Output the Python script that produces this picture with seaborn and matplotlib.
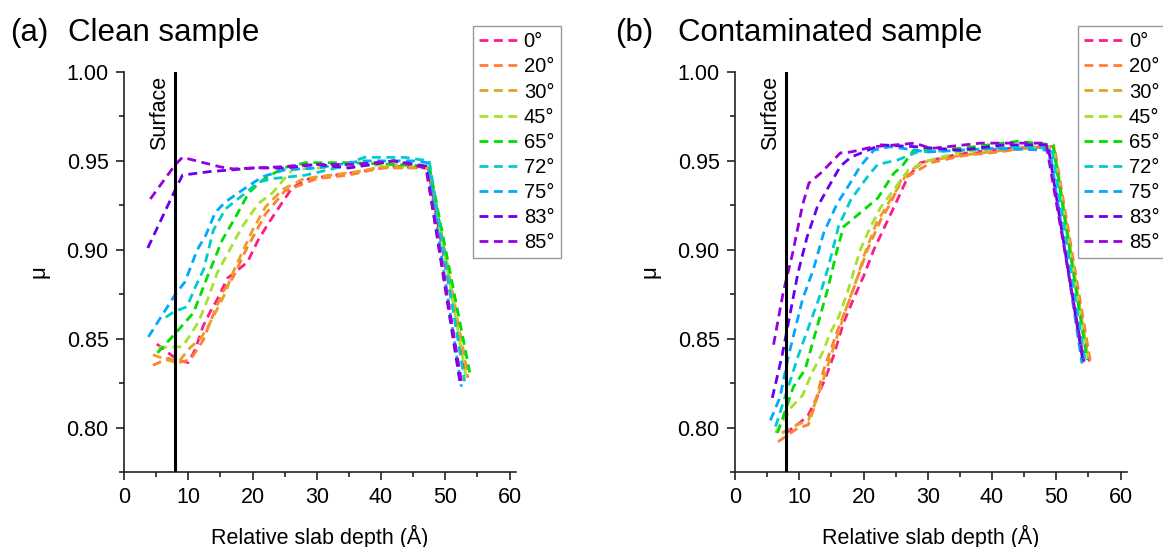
import numpy as np
import pandas as pd
import matplotlib
matplotlib.use("Agg")
import matplotlib.pyplot as plt
from matplotlib.lines import Line2D
import seaborn as sns

sns.set_theme(style="ticks")
plt.rcParams['font.family'] = ['Liberation Sans', 'DejaVu Sans']
plt.rcParams.update({"text.color": "black", "axes.labelcolor": "black",
                     "xtick.color": "black", "ytick.color": "black"})

angles = ["0°", "20°", "30°", "45°", "65°", "72°", "75°", "83°", "85°"]
colors = ["#FF1A8C", "#FF8030", "#E8A028", "#A8E030", "#00DD00", "#00CCCC", "#00AAFF", "#6600EE", "#9900DD"]

# ---- Panel (a): clean sample ----
a_x_0 = [5.1, 6.9, 8.4, 10.0, 11.1, 12.3, 13.4, 14.5, 16.1, 19.2, 20.9, 22.5, 24.7, 26.2, 28.8, 35, 42, 47.3, 53.0]
a_y_0 = [0.847, 0.842, 0.838, 0.8365, 0.844, 0.857, 0.865, 0.872, 0.884, 0.893, 0.9056, 0.915, 0.927, 0.935, 0.940, 0.943, 0.947, 0.946, 0.830]
a_x_20 = [4.5, 6.9, 8.4, 10.3, 12.3, 13.5, 15.3, 16.9, 19, 22, 25, 30, 35, 40, 47.5, 53.5]
a_y_20 = [0.835, 0.839, 0.8365, 0.838, 0.849, 0.860, 0.876, 0.884, 0.900, 0.920, 0.933, 0.940, 0.942, 0.946, 0.946, 0.828]
a_x_30 = [4.5, 6.7, 8.4, 10.3, 11.9, 13.1, 15.0, 15.8, 16.6, 17.3, 20.0, 22.0, 24.7, 28, 32.2, 36.4, 40.0, 47.5, 53.5]
a_y_30 = [0.841, 0.838, 0.8365, 0.845, 0.850, 0.857, 0.870, 0.876, 0.884, 0.890, 0.911, 0.924, 0.934, 0.940, 0.942, 0.944, 0.9466, 0.946, 0.830]
a_x_45 = [5.3, 9.1, 10.3, 11.6, 12.9, 14.5, 18.4, 20.9, 23.1, 25.2, 26.2, 30, 36, 42, 47.5, 53.2]
a_y_45 = [0.845, 0.8455, 0.852, 0.8595, 0.871, 0.887, 0.913, 0.926, 0.932, 0.941, 0.945, 0.946, 0.947, 0.948, 0.947, 0.829]
a_x_65 = [5.2, 8.0, 10.8, 13.0, 15.3, 17.3, 19.4, 21.5, 24.7, 28.3, 35, 42, 47.5, 53.8]
a_y_65 = [0.842, 0.853, 0.8645, 0.885, 0.9056, 0.918, 0.932, 0.939, 0.946, 0.949, 0.949, 0.948, 0.947, 0.831]
a_x_72 = [6.5, 7.7, 9.8, 11.1, 12.4, 13.9, 15.8, 18.9, 20.9, 23.1, 28.3, 33, 37.4, 43.6, 47.5, 53.0]
a_y_72 = [0.862, 0.865, 0.868, 0.879, 0.889, 0.911, 0.923, 0.932, 0.938, 0.940, 0.942, 0.946, 0.952, 0.952, 0.950, 0.826]
a_x_75 = [3.8, 5.9, 8.0, 9.5, 11.4, 12.7, 14.2, 15.8, 19.4, 21.5, 25, 30, 37, 45, 47.2, 52.5]
a_y_75 = [0.851, 0.863, 0.875, 0.882, 0.900, 0.908, 0.921, 0.927, 0.936, 0.941, 0.945, 0.946, 0.950, 0.950, 0.949, 0.823]
a_x_83 = [3.7, 8.0, 9.1, 13.4, 17, 20, 25, 30, 35, 42, 47, 52.3]
a_y_83 = [0.901, 0.934, 0.942, 0.944, 0.945, 0.946, 0.946, 0.948, 0.946, 0.950, 0.947, 0.825]
a_x_85 = [4.1, 8.0, 9.1, 15.0, 17.0, 20.2, 23.9, 30, 36, 42, 47, 52.5]
a_y_85 = [0.9286, 0.948, 0.952, 0.9466, 0.9455, 0.946, 0.9466, 0.948, 0.948, 0.950, 0.946, 0.826]

# ---- Panel (b): contaminated sample ----
b_x_0 = [7.8, 10.2, 11.4, 12.8, 14.1, 15.3, 16.9, 18.4, 20.0, 21.6, 25.0, 26.9, 28.9, 35, 42, 49.5, 55.2]
b_y_0 = [0.7966, 0.803, 0.807, 0.8173, 0.828, 0.840, 0.859, 0.872, 0.885, 0.900, 0.926, 0.941, 0.949, 0.954, 0.957, 0.958, 0.836]
b_x_20 = [6.7, 9.7, 11.4, 12.2, 13.8, 16.0, 18.0, 20.6, 22.7, 24.2, 25.8, 30.5, 35.6, 41, 45, 49.7, 55.3]
b_y_20 = [0.792, 0.7995, 0.8016, 0.810, 0.8325, 0.855, 0.8735, 0.900, 0.917, 0.926, 0.939, 0.949, 0.953, 0.955, 0.957, 0.958, 0.837]
b_x_30 = [7.3, 9.7, 11.4, 12.8, 14.1, 15.6, 17.2, 19.1, 20.0, 22.0, 24.5, 27, 30, 35, 42, 49.6, 55.0]
b_y_30 = [0.797, 0.8016, 0.804, 0.8167, 0.831, 0.848, 0.866, 0.885, 0.896, 0.915, 0.930, 0.944, 0.950, 0.953, 0.956, 0.958, 0.838]
b_x_45 = [6.3, 8.9, 10.5, 12.0, 13.6, 14.8, 16.1, 17.5, 19.5, 21.1, 22.7, 24.7, 27, 30, 35, 45, 49.5, 55]
b_y_45 = [0.797, 0.812, 0.818, 0.831, 0.842, 0.853, 0.862, 0.876, 0.900, 0.913, 0.924, 0.9337, 0.945, 0.950, 0.955, 0.958, 0.958, 0.837]
b_x_65 = [6.6, 7.5, 9.1, 10.9, 12.8, 14.4, 15.9, 16.9, 19.1, 22.2, 24.7, 26, 27.8, 35, 44, 49.5, 54.8]
b_y_65 = [0.797, 0.806, 0.823, 0.8325, 0.857, 0.8775, 0.900, 0.913, 0.9196, 0.929, 0.943, 0.947, 0.956, 0.957, 0.961, 0.959, 0.838]
b_x_72 = [6.3, 8.3, 9.8, 11.4, 13.0, 14.5, 16.1, 18.0, 20.6, 22.2, 25.3, 28.4, 35, 45, 49.3, 54.5]
b_y_72 = [0.8005, 0.823, 0.840, 0.856, 0.872, 0.890, 0.913, 0.928, 0.941, 0.948, 0.9505, 0.955, 0.956, 0.958, 0.957, 0.837]
b_x_75 = [5.5, 7.0, 8.3, 10.5, 12.2, 13.8, 15.9, 17.5, 19.5, 21.6, 24.2, 30, 40, 49, 54]
b_y_75 = [0.804, 0.817, 0.840, 0.872, 0.889, 0.9095, 0.926, 0.935, 0.947, 0.956, 0.958, 0.955, 0.957, 0.956, 0.836]
b_x_83 = [5.8, 7.3, 8.6, 9.8, 11.2, 12.8, 14.5, 16.4, 18.0, 20.0, 22.7, 28, 35, 42, 48.7, 54.2]
b_y_83 = [0.8167, 0.840, 0.8645, 0.887, 0.907, 0.924, 0.935, 0.947, 0.952, 0.955, 0.959, 0.958, 0.956, 0.959, 0.959, 0.836]
b_x_85 = [6.0, 7.5, 8.9, 10.5, 11.5, 13.3, 16.4, 18.0, 21.6, 25, 28, 30.5, 38.3, 48.4, 54.3]
b_y_85 = [0.8466, 0.876, 0.897, 0.925, 0.9375, 0.943, 0.9545, 0.955, 0.958, 0.959, 0.960, 0.957, 0.960, 0.960, 0.837]

a_series = [(a_x_0, a_y_0), (a_x_20, a_y_20), (a_x_30, a_y_30), (a_x_45, a_y_45), (a_x_65, a_y_65),
            (a_x_72, a_y_72), (a_x_75, a_y_75), (a_x_83, a_y_83), (a_x_85, a_y_85)]
b_series = [(b_x_0, b_y_0), (b_x_20, b_y_20), (b_x_30, b_y_30), (b_x_45, b_y_45), (b_x_65, b_y_65),
            (b_x_72, b_y_72), (b_x_75, b_y_75), (b_x_83, b_y_83), (b_x_85, b_y_85)]

surface_depth = 8
x_ticks = [0, 10, 20, 30, 40, 50, 60]
y_ticks = [0.80, 0.85, 0.90, 0.95, 1.00]


def to_frame(series):
    rows = []
    for ang, (xs, ys) in zip(angles, series):
        for i, (x, y) in enumerate(zip(xs, ys)):
            rows.append({"depth": x, "mu": y, "angle": ang, "order": i})
    return pd.DataFrame(rows)


W, H = 1163, 547
fig = plt.figure(figsize=(W / 100, H / 100), dpi=100)
ax_a = fig.add_axes([124 / W, 75 / H, 392 / W, 400 / H])
ax_b = fig.add_axes([735 / W, 75 / H, 392 / W, 400 / H])

palette = dict(zip(angles, colors))
DASH = (0, (3.2, 2.0))
LW = 2.0

for ax, series in [(ax_a, a_series), (ax_b, b_series)]:
    df = to_frame(series)
    sns.lineplot(data=df, x="depth", y="mu", hue="angle", palette=palette, hue_order=angles,
                 estimator=None, sort=False, units="angle", legend=False, ax=ax, lw=LW)
    for ln in ax.get_lines():
        ln.set_linestyle(DASH)
    ax.axvline(surface_depth, color="black", lw=2.2, zorder=5)
    ax.text(surface_depth - 0.9, 0.998, "Surface", rotation=90, ha="right", va="top", fontsize=15.5)
    ax.set_xlim(0, 61)
    ax.set_ylim(0.775, 1.0)
    ax.set_xticks(x_ticks)
    ax.set_yticks(y_ticks)
    ax.set_xticks(np.arange(5, 61, 10), minor=True)
    ax.set_yticks([0.775, 0.825, 0.875, 0.925, 0.975], minor=True)
    ax.set_yticklabels([f"{v:.2f}" for v in y_ticks])
    ax.tick_params(which="major", direction="out", length=6, width=1.2, labelsize=15.5, pad=5, color="#222222")
    ax.tick_params(which="minor", direction="out", length=3.5, width=1.2, color="#222222")
    for s in ["top", "right"]:
        ax.spines[s].set_visible(False)
    for s in ["left", "bottom"]:
        ax.spines[s].set_linewidth(1.2)
        ax.spines[s].set_color("#222222")
    ax.set_xlabel("Relative slab depth (Å)", fontsize=15.5, labelpad=12)
    ax.set_ylabel("μ", fontsize=16, labelpad=12)

handles = [Line2D([], [], color=c, lw=LW, linestyle=DASH) for c in colors]
for x0 in [473, 1078]:
    leg = fig.legend(handles, angles, loc="upper left", bbox_to_anchor=(x0 / W, 1 - 26 / H),
                     bbox_transform=fig.transFigure, fontsize=14.5, frameon=True, fancybox=False,
                     handlelength=2.0, handletextpad=0.2, labelspacing=0.3, borderpad=0.32,
                     borderaxespad=0, framealpha=1)
    leg.get_frame().set_edgecolor("#999999")
    leg.get_frame().set_linewidth(1.0)

fig.text(10 / W, 1 - 33 / H, "(a)", fontsize=22.5, va="center", ha="left")
fig.text(68 / W, 1 - 33 / H, "Clean sample", fontsize=22.5, va="center", ha="left")
fig.text(615 / W, 1 - 33 / H, "(b)", fontsize=22.5, va="center", ha="left")
fig.text(678 / W, 1 - 33 / H, "Contaminated sample", fontsize=22.5, va="center", ha="left")

fig.savefig("out.png", dpi=100)
